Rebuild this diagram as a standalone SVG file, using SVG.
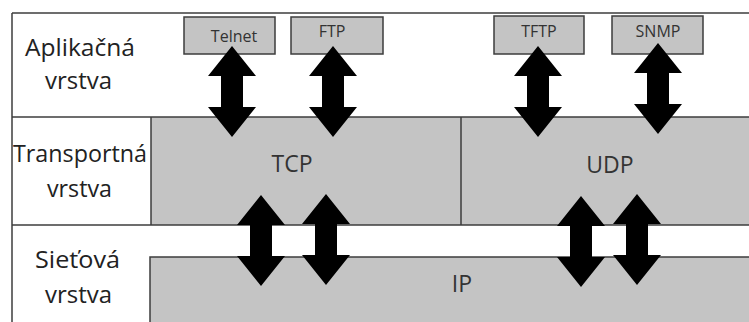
<svg xmlns="http://www.w3.org/2000/svg" width="749" height="322" viewBox="0 0 749 322">
<style>
.ln{stroke:#3c3c3c;stroke-width:1.5;fill:none}
.gr{fill:#c4c4c4}
.box{fill:#c4c4c4;stroke:#3c3c3c;stroke-width:1.5}
.big{font-family:"Open Sans","Noto Sans",sans-serif;font-size:24px;fill:#222}
.mid{font-family:"Open Sans","Noto Sans",sans-serif;font-size:23px;fill:#333;text-anchor:middle}
.sm{font-family:"Open Sans","Noto Sans",sans-serif;font-size:16px;fill:#333;text-anchor:middle}
.arr{fill:#000}
</style>
<defs>
<path id="dbl" d="M0,0 L24,30 L11,30 L11,61 L24,61 L0,91 L-24,61 L-11,61 L-11,30 L-24,30 Z"/>
</defs>
<rect width="749" height="322" fill="#fff"/>
<g id="layer-app">
<line class="ln" x1="12" y1="13" x2="749" y2="13"/>
<text class="big" x="25" y="56" textLength="110" lengthAdjust="spacingAndGlyphs">Aplikačná</text>
<text class="big" x="45" y="89" textLength="67" lengthAdjust="spacingAndGlyphs">vrstva</text>
</g>
<g id="layer-transport">
<rect class="gr" x="151" y="117" width="598" height="108"/>
<line class="ln" x1="151" y1="117" x2="151" y2="225"/>
<line class="ln" x1="461" y1="117" x2="461" y2="225"/>
<line class="ln" x1="12" y1="117" x2="749" y2="117"/>
<text class="big" x="13" y="162" textLength="134" lengthAdjust="spacingAndGlyphs">Transportná</text>
<text class="big" x="47" y="197" textLength="65" lengthAdjust="spacingAndGlyphs">vrstva</text>
</g>
<g id="tcp"><text class="mid" x="292" y="172">TCP</text></g>
<g id="udp"><text class="mid" x="610" y="173">UDP</text></g>
<g id="layer-network">
<line class="ln" x1="12" y1="225" x2="749" y2="225"/>
<rect class="gr" x="150" y="257" width="599" height="70"/>
<path class="ln" d="M150,322 L150,257 L749,257"/>
<text class="big" x="35" y="268" textLength="85" lengthAdjust="spacingAndGlyphs">Sieťová</text>
<text class="big" x="45" y="303" textLength="67" lengthAdjust="spacingAndGlyphs">vrstva</text>
</g>
<g id="ip"><text class="mid" x="462" y="292">IP</text></g>
<line class="ln" x1="12" y1="13" x2="12" y2="322"/>
<g id="telnet"><rect class="box" x="184" y="17" width="91" height="37"/><text class="sm" x="234" y="42">Telnet</text></g>
<g id="ftp"><rect class="box" x="291" y="17" width="92" height="37"/><text class="sm" x="332" y="37">FTP</text></g>
<g id="tftp"><rect class="box" x="494" y="16" width="90" height="38"/><text class="sm" x="539" y="37">TFTP</text></g>
<g id="snmp"><rect class="box" x="612" y="16" width="91" height="38"/><text class="sm" x="658" y="37">SNMP</text></g>
<g id="connectors" class="arr">
<use href="#dbl" x="232" y="46"/>
<use href="#dbl" x="333" y="46"/>
<use href="#dbl" x="538" y="46"/>
<use href="#dbl" x="658" y="43"/>
<use href="#dbl" x="261" y="195"/>
<use href="#dbl" x="326" y="194"/>
<use href="#dbl" x="581" y="196"/>
<use href="#dbl" x="637" y="194"/>
</g>
</svg>
